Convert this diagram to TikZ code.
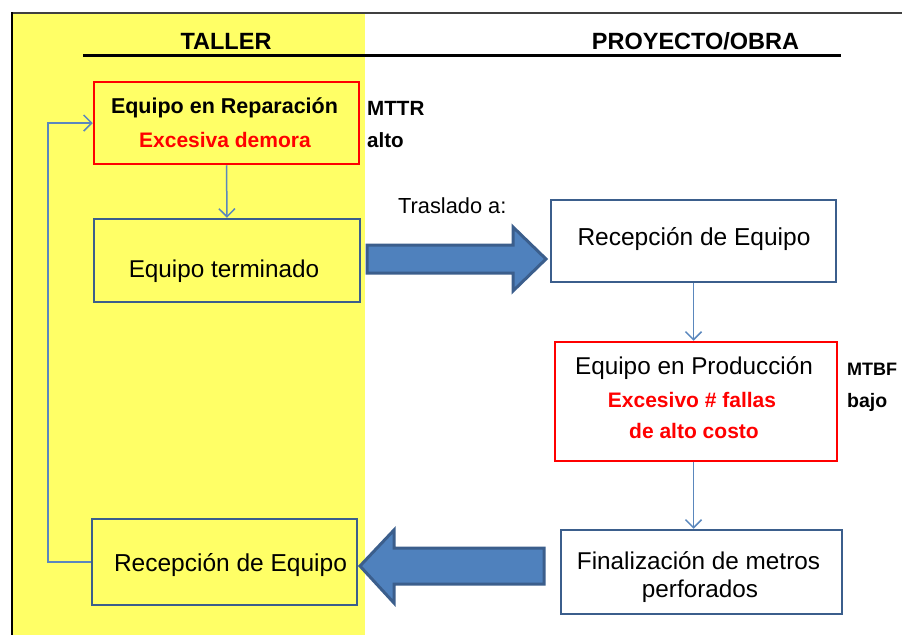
\documentclass[tikz,border=0pt]{standalone}
\usepackage{fontspec}
\setmainfont{Liberation Sans}
\usetikzlibrary{arrows.meta,calc}
\definecolor{yel}{HTML}{FFFF66}
\definecolor{boxblue}{HTML}{3B5E8C}
\definecolor{arrfill}{HTML}{4F81BD}
\definecolor{conncol}{HTML}{5A87BD}
\definecolor{redc}{HTML}{FF0000}
\begin{document}
\begin{tikzpicture}[x=1pt,y=-1pt,
  hdr/.style={font=\bfseries\fontsize{23.5}{28}\selectfont, inner sep=0pt, anchor=base},
  boldtxt/.style={font=\bfseries\fontsize{21.5}{26}\selectfont, inner sep=0pt, anchor=base},
  redtxt/.style={font=\bfseries\fontsize{21}{25}\selectfont, text=redc, inner sep=0pt, anchor=base},
  sidetxt/.style={font=\bfseries\fontsize{20.6}{25}\selectfont, inner sep=0pt, anchor=base west},
  regtxt/.style={font=\fontsize{24.3}{29}\selectfont, inner sep=0pt, anchor=base},
  redbox/.style={draw=redc, line width=2.5pt, inner sep=0pt},
  bluebox/.style={draw=boxblue, line width=2.5pt, inner sep=0pt},
  conn/.style={draw=conncol, line width=1.5pt, -{Straight Barb[length=8pt,width=16pt]}},
  barrow/.style={fill=arrfill, draw=boxblue, line width=3pt, line join=miter}]
\path[use as bounding box] (0,0) rectangle (902,635);
\fill[yel] (13,13) rectangle (365,635);
\draw[line width=2pt, black!75] (12,13) -- (902,13);
\draw[line width=2pt] (12,12) -- (12,635);
\draw[line width=3pt] (83,55) -- (841,55);

\node[hdr] (taller) at (226,49) {TALLER};
\node[hdr] (proy) at (695.5,49) {PROYECTO/OBRA};

% boxes
\node[redbox, fill=none, minimum width=265pt, minimum height=82pt] (rep) at (226.5,123) {};
\node[bluebox, minimum width=266pt, minimum height=83pt] (term) at (227,260.5) {};
\node[bluebox, fill=white, minimum width=285pt, minimum height=82pt] (recR) at (693.5,241) {};
\node[redbox, fill=white, minimum width=282pt, minimum height=119pt] (prod) at (696,401.5) {};
\node[bluebox, fill=white, minimum width=281pt, minimum height=84pt] (fin) at (701.5,572) {};
\node[bluebox, minimum width=265pt, minimum height=86pt] (recL) at (224.5,562) {};

% texts
\node[boldtxt] (repA) at (224.5,113) {Equipo en Reparación};
\node[redtxt] (repB) at (225,147) {Excesiva demora};
\node[sidetxt] (mttr) at (367,115) {MTTR};
\node[sidetxt] (mttrB) at (367,147) {alto};
\node[regtxt] (termT) at (224,277) {Equipo terminado};
\node[font=\fontsize{21.8}{26}\selectfont, inner sep=0pt, anchor=base west] (tras) at (398,213) {Traslado a:};
\node[regtxt, font=\fontsize{24.5}{29}\selectfont] (recRT) at (694,245) {Recepción de Equipo};
\node[regtxt] (prodA) at (694,374) {Equipo en Producción};
\node[redtxt] (prodB) at (692,407) {Excesivo \# fallas};
\node[redtxt] (prodC) at (694,438) {de alto costo};
\node[sidetxt, font=\bfseries\fontsize{18}{21}\selectfont] (mtbf) at (847,375) {MTBF};
\node[sidetxt, font=\bfseries\fontsize{19.5}{23}\selectfont] (mtbfB) at (847,407) {bajo};
\node[regtxt] (finA) at (698.5,569) {Finalización de metros};
\node[regtxt] (finB) at (700,597) {perforados};
\node[regtxt, font=\fontsize{24.5}{29}\selectfont] (recLT) at (230.5,571) {Recepción de Equipo};

% connectors
\draw[conn] (rep.south) -- (term.north);
\draw[conn] (recR.south) -- (recR.south |- prod.north);
\draw[conn] (recR.south |- prod.south) -- (recR.south |- fin.north);
\coordinate (fbk) at (48,123);
\draw[conn] (recL.west) -| (fbk) -- (rep.west);

% block arrows
\draw[barrow] (367,245) -- (513,245) -- (513,227) -- (546,259) -- (513,291) -- (513,273) -- (367,273) -- cycle;
\draw[barrow] (544,548) -- (394,548) -- (394,530) -- (360,566) -- (394,603) -- (394,584) -- (544,584) -- cycle;
\end{tikzpicture}
\end{document}
